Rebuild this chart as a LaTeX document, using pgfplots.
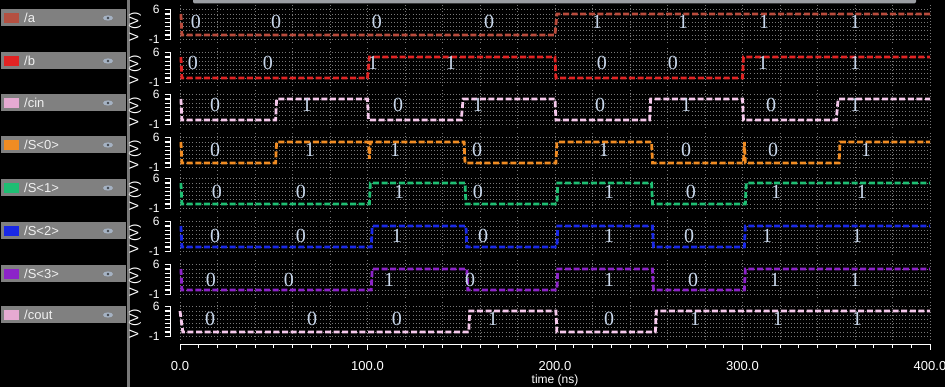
\documentclass[border=0pt]{standalone}
\usepackage{fontspec}
\setmainfont{Liberation Sans}
\newfontfamily\valfont{Liberation Serif}
\usepackage{pgfplots}
\pgfplotsset{compat=1.18}
\definecolor{ca}{RGB}{185,75,60}
\definecolor{cb}{RGB}{225,35,35}
\definecolor{ccin}{RGB}{245,200,235}
\definecolor{cs0}{RGB}{240,140,35}
\definecolor{cs1}{RGB}{30,190,115}
\definecolor{cs2}{RGB}{25,40,230}
\definecolor{cs3}{RGB}{140,35,200}
\definecolor{ccout}{RGB}{245,200,235}
\definecolor{swa}{RGB}{180,80,65}
\definecolor{swcin}{RGB}{230,170,210}
\definecolor{gridc}{RGB}{120,120,120}
\definecolor{valc}{RGB}{200,215,235}
\definecolor{panel}{RGB}{128,128,128}
\definecolor{eyec}{RGB}{165,178,195}
\definecolor{sepc}{RGB}{120,120,120}
\definecolor{topbar}{RGB}{155,158,163}
\pgfplotsset{
 strip/.style={scale only axis, width=750pt, height=39.9pt, anchor=south west,
  xmin=0, xmax=400, ymin=-2, ymax=7.5, clip=false,
  axis x line*=bottom, axis y line*=left,
  axis line style={draw=none},
  xtick={0,20,...,400}, xticklabels={}, 
  ytick={-1,0,...,6}, yticklabels={-1,,,,,,,6},
  major tick length=0pt,
  yticklabel style={font=\fontsize{12}{12}\selectfont, text=white, xshift=-17pt},
  grid=major, major grid style={gridc, dash pattern=on 0.9pt off 2.2pt, line width=0.9pt},
 },
 sig/.style={line width=2.8pt, dash pattern=on 6pt off 2.6pt},
 vals/.style={only marks, mark=none, nodes near coords, point meta=explicit symbolic,
  every node near coord/.style={anchor=center, text=valc, inner sep=0pt, font=\valfont\fontsize{20}{20}\selectfont}},
}
\newcommand{\pbar}[3]{%
 \fill[panel] (1,{387-#1-8.5}) rectangle (126,{387-#1+8.5});
 \fill[#2] (4,{387-#1-5}) rectangle (19,{387-#1+5});
 \node[anchor=west, text=white!94!black, font=\fontsize{13}{13}\selectfont, inner sep=0pt] at (24,{387-#1}) {#3};
 \fill[eyec] (108,{387-#1}) ellipse (5 and 2.6);
 \fill[black!60!eyec] (108,{387-#1}) circle (1.3);
}
\newcommand{\vlab}[1]{\node[rotate=90, text=white, font=\fontsize{13}{13}\selectfont, inner sep=0pt] at (135,#1) {V (V)};}
\begin{document}
\begin{tikzpicture}[x=1pt,y=1pt]
\fill[black] (0,0) rectangle (945,387);
\useasboundingbox (0,0) rectangle (945,387);
\fill[sepc] (127,0) rectangle (129.5,387);
\fill[topbar, rounded corners=2pt] (193,383.5) rectangle (916,392);
\pbar{18}{swa}{/a}
\pbar{61}{cb}{/b}
\pbar{103}{swcin}{/cin}
\pbar{145}{cs0}{/S<0>}
\pbar{188}{cs1}{/S<1>}
\pbar{231}{cs2}{/S<2>}
\pbar{274}{cs3}{/S<3>}
\pbar{315}{swcin}{/cout}
\vlab{360}\vlab{317}\vlab{275}\vlab{232}\vlab{191}\vlab{148}\vlab{105}\vlab{63}
\foreach \b in {343.6,300.6,258.6,215.6,174.6,131.6,88.6,46.6} {
 \draw[white, line width=1.2pt] (170.8,\b+4.2) -- (170.8,\b+33.6);
 \foreach \k in {1,...,8} { \draw[white, line width=1.1pt] (164.5,\b+4.2*\k) -- (171.4,\b+4.2*\k); }
}

% /a
\begin{axis}[strip, at={(180pt,343.6pt)}]
\addplot[sig, ca] coordinates {(0.5,5)(1,0)(200,0)(201,5)(400,5)};
\addplot[vals] coordinates {(8.5,3.2)[0] (51.2,3.2)[0] (105,3.2)[0] (164.8,3.2)[0] (222.4,3.2)[1] (268.3,3.2)[1] (311.5,3.2)[1] (360,3.2)[1]};
\end{axis}
% /b
\begin{axis}[strip, at={(180pt,300.6pt)}]
\addplot[sig, cb] coordinates {(0.5,5)(1,0)(100,0)(101,5)(200,5)(200.5,0)(300,0)(300.5,5)(400,5)};
\addplot[vals] coordinates {(6.9,3.5)[0] (46.9,3.5)[0] (102.9,3.5)[1] (144.5,3.5)[1] (225,3.5)[0] (262.9,3.5)[0] (310.9,3.5)[1] (360,3.5)[1]};
\end{axis}
% /cin
\begin{axis}[strip, at={(180pt,258.6pt)}]
\addplot[sig, ccin] coordinates {(0.5,5)(1,0)(51,0)(51.5,5)(100,5)(100.5,0)(150,0)(151,5)(200,5)(200.5,0)(250.5,0)(251,5)(300,5)(300.5,0)(350,0)(351,5)(400,5)};
\addplot[vals] coordinates {(18.7,3.5)[0] (67.7,3.5)[1] (116.3,3.5)[0] (158.9,3.5)[1] (224,3.5)[0] (269.9,3.5)[1] (315.2,3.5)[0] (360,3.5)[1]};
\end{axis}
% /S<0>
\begin{axis}[strip, at={(180pt,215.6pt)}]
\addplot[sig, cs0] coordinates {(0.5,5)(1,0)(51,0)(51.5,5)(100.5,5)(101,1)(101.5,5)(151.5,5)(152,0)(200.5,0)(201,5)(251.5,5)(252,0)(300.5,0)(301,5)(301.5,0)(351.5,0)(352,5)(400,5)};
\addplot[vals] coordinates {(18.7,3.2)[0] (69.3,3.2)[1] (114.7,3.2)[1] (158.4,3.2)[0] (226.1,3.2)[1] (269.9,3.2)[0] (316.3,3.2)[0] (365.9,3.2)[1]};
\end{axis}
% /S<1>
\begin{axis}[strip, at={(180pt,174.6pt)}]
\addplot[sig, cs1] coordinates {(0.5,5)(1,0)(101,0)(101.5,5)(152,5)(152.5,0)(201,0)(201.5,5)(251.5,5)(252,0)(301.5,0)(302,5)(400,5)};
\addplot[vals] coordinates {(19.7,2.9)[0] (64.5,2.9)[0] (116.8,2.9)[1] (158.9,2.9)[0] (228.8,2.9)[1] (272.5,2.9)[0] (317.9,2.9)[1] (363.7,2.9)[1]};
\end{axis}
% /S<2>
\begin{axis}[strip, at={(180pt,131.6pt)}]
\addplot[sig, cs2] coordinates {(0.5,5)(1,0)(102,0)(102.5,5)(152.5,5)(153,0)(201,0)(201.5,5)(252,5)(252.5,0)(301,0)(301.5,5)(400,5)};
\addplot[vals] coordinates {(18.7,2.6)[0] (64.5,2.6)[0] (115.7,2.6)[1] (161.6,2.6)[0] (228.8,2.6)[1] (271.5,2.6)[0] (313.1,2.6)[1] (361.1,2.6)[1]};
\end{axis}
% /S<3>
\begin{axis}[strip, at={(180pt,88.6pt)}]
\addplot[sig, cs3] coordinates {(0.5,5)(1,0)(102,0)(102.5,5)(153,5)(153.5,0)(201,0)(201.5,5)(252,5)(252.5,0)(301,0)(301.5,5)(400,5)};
\addplot[vals] coordinates {(16.5,2.4)[0] (58.1,2.4)[0] (111.5,2.4)[1] (154.7,2.4)[0] (228.8,2.4)[1] (273.6,2.4)[0] (317.3,2.4)[1] (360,2.4)[1]};
\end{axis}
% /cout
\begin{axis}[strip, at={(180pt,46.6pt)}]
\addplot[sig, ccout] coordinates {(0,5)(1.5,0)(154,0)(154.5,5)(200.5,5)(201,0)(253.5,0)(254,5)(400,5)};
\addplot[vals] coordinates {(16,3.1)[0] (70.4,3.1)[0] (115.7,3.1)[0] (166.9,3.1)[1] (228.8,3.1)[0] (274.7,3.1)[1] (318.9,3.1)[1] (361.1,3.1)[1]};
\end{axis}
% time axis
\begin{axis}[scale only axis, width=750pt, height=1pt, at={(180pt,43pt)}, anchor=south west,
  xmin=0, xmax=400, ymin=0, ymax=1, axis x line*=bottom, axis y line=none, ytick=\empty,
  x axis line style={white, line width=0.8pt},
  xtick={0,100,...,400}, xticklabels={0.0,100.0,200.0,300.0,400.0}, minor x tick num=9,
  tick align=outside, major tick length=6pt, minor tick length=4pt,
  every tick/.style={white, line width=0.8pt},
  xticklabel style={text=white, font=\fontsize{13}{13}\selectfont, yshift=-8pt},
  xlabel={time (ns)},
  xlabel style={text=white, font=\fontsize{12}{12}\selectfont, at={(axis description cs:0.5,0)}, anchor=center, yshift=-36pt}]
\addplot[draw=none] coordinates {(0,0)(400,1)};
\end{axis}
\end{tikzpicture}
\end{document}
